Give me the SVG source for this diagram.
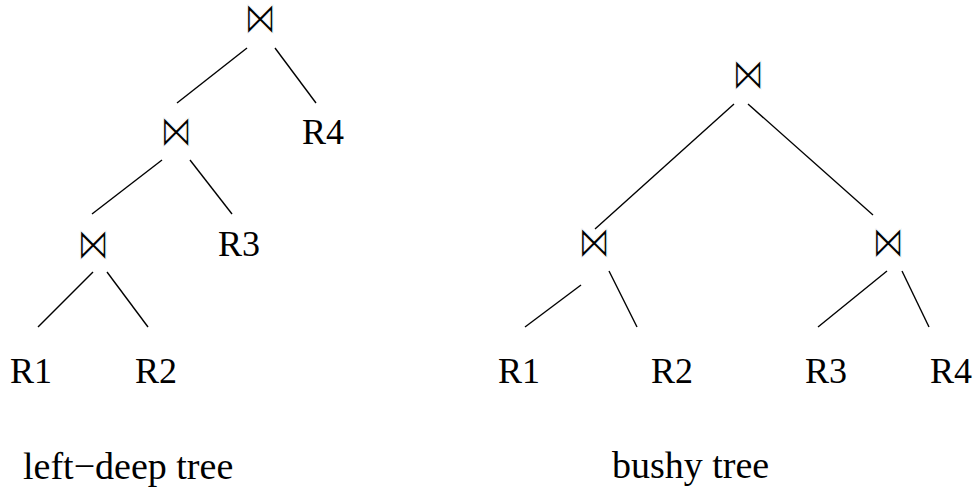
<svg xmlns="http://www.w3.org/2000/svg" width="976" height="489" viewBox="0 0 976 489">
<style>
.t{font-family:"Liberation Serif","Times New Roman",serif;font-size:36px;fill:#000}
.c{font-size:38px}
.j{font-family:"DejaVu Sans",sans-serif;font-size:32px;fill:#000;stroke:#fff;stroke-width:0.9;text-anchor:middle}
#edges line{stroke:#000;stroke-width:1.4}
</style>
<rect width="976" height="489" fill="#fff"/>
<g id="edges">
<line x1="247" y1="48" x2="177" y2="103"/>
<line x1="275" y1="48" x2="316" y2="103"/>
<line x1="162" y1="160" x2="92" y2="214"/>
<line x1="190" y1="160" x2="232" y2="214"/>
<line x1="93" y1="272" x2="38" y2="327"/>
<line x1="107" y1="272" x2="148" y2="327"/>
<line x1="734" y1="104" x2="595" y2="229"/>
<line x1="748" y1="104" x2="873" y2="215"/>
<line x1="581" y1="285" x2="525" y2="327"/>
<line x1="609" y1="271" x2="637" y2="327"/>
<line x1="887" y1="271" x2="818" y2="327"/>
<line x1="902" y1="271" x2="929" y2="327"/>
</g>
<g id="L-join1"><text class="j" transform="translate(260,19.5) scale(1,1.38)" y="9.9">⋈</text></g>
<g id="L-join2"><text class="j" transform="translate(176,132) scale(1,1.38)" y="9.9">⋈</text></g>
<g id="L-join3"><text class="j" transform="translate(93,245) scale(1,1.38)" y="9.9">⋈</text></g>
<g id="L-R4"><text class="t" x="302" y="144">R4</text></g>
<g id="L-R3"><text class="t" x="218" y="256">R3</text></g>
<g id="L-R1"><text class="t" x="10" y="383">R1</text></g>
<g id="L-R2"><text class="t" x="135" y="383">R2</text></g>
<g id="B-join1"><text class="j" transform="translate(748,75.5) scale(1,1.38)" y="9.9">⋈</text></g>
<g id="B-join2"><text class="j" transform="translate(594,243.5) scale(1,1.38)" y="9.9">⋈</text></g>
<g id="B-join3"><text class="j" transform="translate(888,243.5) scale(1,1.38)" y="9.9">⋈</text></g>
<g id="B-R1"><text class="t" x="498" y="383">R1</text></g>
<g id="B-R2"><text class="t" x="651" y="383">R2</text></g>
<g id="B-R3"><text class="t" x="805" y="383">R3</text></g>
<g id="B-R4"><text class="t" x="930" y="383">R4</text></g>
<g id="label-left"><text class="t c" x="23" y="479">left−deep tree</text></g>
<g id="label-bushy"><text class="t c" x="612" y="478">bushy tree</text></g>
</svg>
